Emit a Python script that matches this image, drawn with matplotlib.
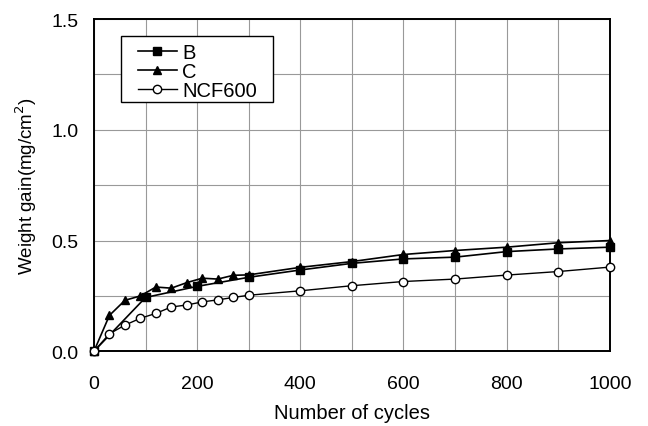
import numpy as np
import matplotlib.pyplot as plt
from matplotlib.patches import Rectangle

plt.rcParams['font.family'] = ['Liberation Sans', 'DejaVu Sans']

# Sample B: every 100 cycles
b_cycles = [0, 100, 200, 300, 400, 500, 600, 700, 800, 900, 1000]
b_gain = [0.0, 0.243, 0.293, 0.334, 0.367, 0.397, 0.417, 0.425, 0.45, 0.462, 0.47]

# Sample C: every 30 cycles up to 300, then every 100
c_cycles = [0, 30, 60, 90, 120, 150, 180, 210, 240, 270, 300,
            400, 500, 600, 700, 800, 900, 1000]
c_gain = [0.0, 0.162, 0.23, 0.25, 0.29, 0.285, 0.31, 0.33, 0.326, 0.343, 0.345,
          0.379, 0.405, 0.437, 0.455, 0.47, 0.49, 0.50]

# NCF600
n_cycles = [0, 30, 60, 90, 120, 150, 180, 210, 240, 270, 300,
            400, 500, 600, 700, 800, 900, 1000]
n_gain = [0.0, 0.079, 0.118, 0.149, 0.171, 0.2, 0.209, 0.223, 0.232, 0.243, 0.253,
          0.273, 0.296, 0.315, 0.326, 0.344, 0.36, 0.38]

fig = plt.figure(figsize=(6.48, 4.27), dpi=100)
ax = fig.add_axes([0.145, 0.175, 0.796, 0.778])

ax.plot(b_cycles, b_gain, color='black', lw=1.2, marker='s', ms=5.5,
        mfc='black', mec='black', label='B', zorder=3, clip_on=False)
ax.plot(c_cycles, c_gain, color='black', lw=1.2, marker='^', ms=5.5,
        mfc='black', mec='black', label='C', zorder=3, clip_on=False)
ax.plot(n_cycles, n_gain, color='black', lw=1.0, marker='o', ms=6,
        mfc='white', mec='black', mew=1.0, label='NCF600', zorder=4,
        clip_on=False)

ax.set_xlim(0, 1000)
ax.set_ylim(0, 1.5)
ax.set_xticks(np.arange(0, 1001, 200))
ax.set_xticks(np.arange(0, 1001, 100), minor=True)
ax.set_yticks([0.0, 0.5, 1.0, 1.5])
ax.set_yticks(np.arange(0, 1.51, 0.25), minor=True)
ax.set_yticklabels(['0.0', '0.5', '1.0', '1.5'])
ax.grid(True, which='both', color='#999999', lw=0.8)
ax.set_axisbelow(True)
ax.tick_params(which='both', length=0, labelsize=14)
ax.tick_params(axis='x', pad=17)
ax.tick_params(axis='y', pad=11)
for s in ax.spines.values():
    s.set_linewidth(1.4)

ax.set_xlabel('Number of cycles', fontsize=14.5, labelpad=8)
ax.set_ylabel('Weight gain(mg/cm$^2$)', fontsize=13.5, labelpad=9)

# legend box drawn separately so its padding can match the original
ax.add_patch(Rectangle((0.052, 0.75), 0.295, 0.2, transform=ax.transAxes,
                       facecolor='white', edgecolor='black', lw=1.0, zorder=5))
leg = ax.legend(loc='upper left', bbox_to_anchor=(0.085, 0.929), fontsize=14.5,
                frameon=False, handlelength=1.95, handletextpad=0.26,
                borderpad=0, labelspacing=0.02, borderaxespad=0)
leg.set_zorder(6)

fig.savefig('out.png', dpi=100)
